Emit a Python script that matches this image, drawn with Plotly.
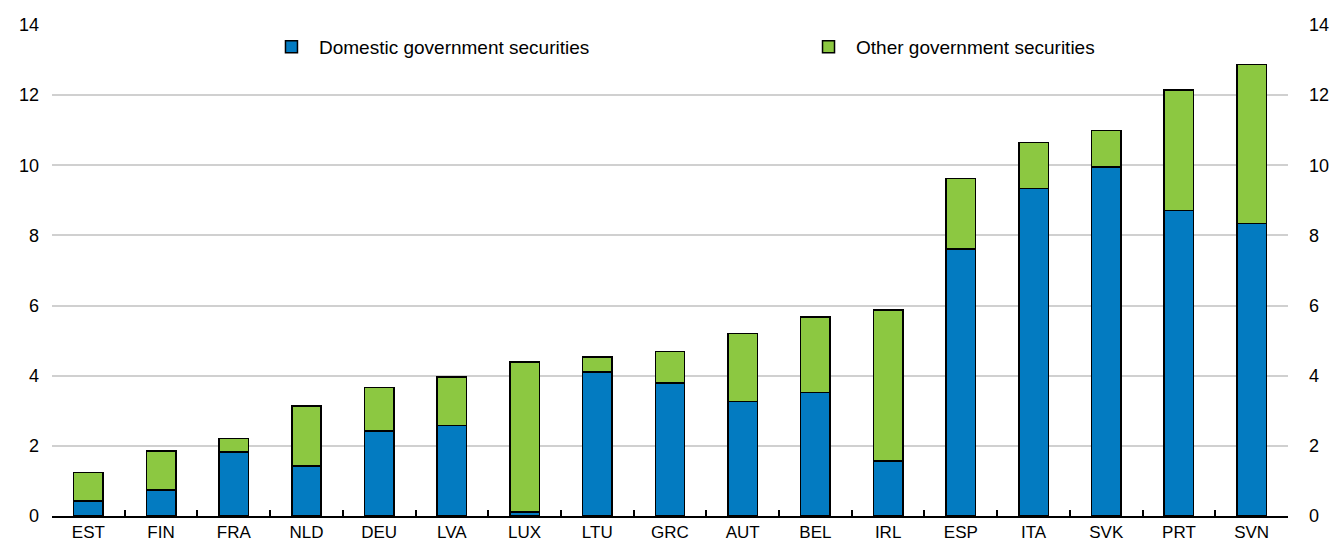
import plotly.graph_objects as go

countries = ["EST", "FIN", "FRA", "NLD", "DEU", "LVA", "LUX", "LTU", "GRC",
             "AUT", "BEL", "IRL", "ESP", "ITA", "SVK", "PRT", "SVN"]
domestic = [0.43, 0.74, 1.82, 1.42, 2.42, 2.58, 0.12, 4.10, 3.79,
            3.26, 3.52, 1.57, 7.62, 9.34, 9.95, 8.71, 8.34]
totals = [1.24, 1.86, 2.21, 3.14, 3.66, 3.96, 4.39, 4.53, 4.69,
          5.21, 5.67, 5.88, 9.63, 10.65, 10.99, 12.15, 12.88]
other = [round(t - d, 2) for t, d in zip(totals, domestic)]
y_ticks = [0, 2, 4, 6, 8, 10, 12, 14]

FONT = "Liberation Sans, Arial"
BLUE = "#037BC1"
GREEN = "#8CC841"

fig = go.Figure()
fig.add_trace(go.Bar(x=countries, y=domestic, name="Domestic government securities",
                     legend="legend",
                     marker=dict(color=BLUE, line=dict(color="black", width=1.5))))
fig.add_trace(go.Bar(x=countries, y=other, name="Other government securities",
                     legend="legend2",
                     marker=dict(color=GREEN, line=dict(color="black", width=1.5))))
fig.add_trace(go.Scatter(x=countries, y=totals, yaxis="y2", mode="markers",
                         marker=dict(opacity=0), showlegend=False, hoverinfo="skip"))

leg_common = dict(orientation="h", y=0.994, xanchor="left", yanchor="top",
                  itemwidth=45, bgcolor="rgba(0,0,0,0)",
                  font=dict(family=FONT, size=19))

fig.update_layout(
    width=1335, height=544,
    barmode="stack", bargap=0.595,
    plot_bgcolor="white", paper_bgcolor="white",
    margin=dict(l=52, r=47, t=25, b=28),
    font=dict(family=FONT, size=18, color="black"),
    legend=dict(x=0.1715, **leg_common),
    legend2=dict(x=0.606, **leg_common),
    xaxis=dict(range=[-0.5, 16.5], showline=True, linecolor="black", linewidth=1.5,
               ticks="inside", tickson="boundaries", ticklen=6, tickcolor="black",
               tickwidth=1.5, showgrid=False, zeroline=False, automargin=False,
               ticklabelstandoff=0, tickfont=dict(size=17)),
    yaxis=dict(range=[0, 14], tickvals=y_ticks, showgrid=True, gridcolor="#d0d0d0",
               gridwidth=2, zeroline=False, ticks="", ticklabelstandoff=12,
               automargin=False),
    yaxis2=dict(range=[0, 14], tickvals=y_ticks, overlaying="y", side="right",
                showgrid=False, zeroline=False, ticks="", ticklabelstandoff=20,
                automargin=False),
)

fig.write_html("out.html", config={"displayModeBar": False},
               post_script="document.body.style.margin='0';document.body.style.overflow='hidden';")
